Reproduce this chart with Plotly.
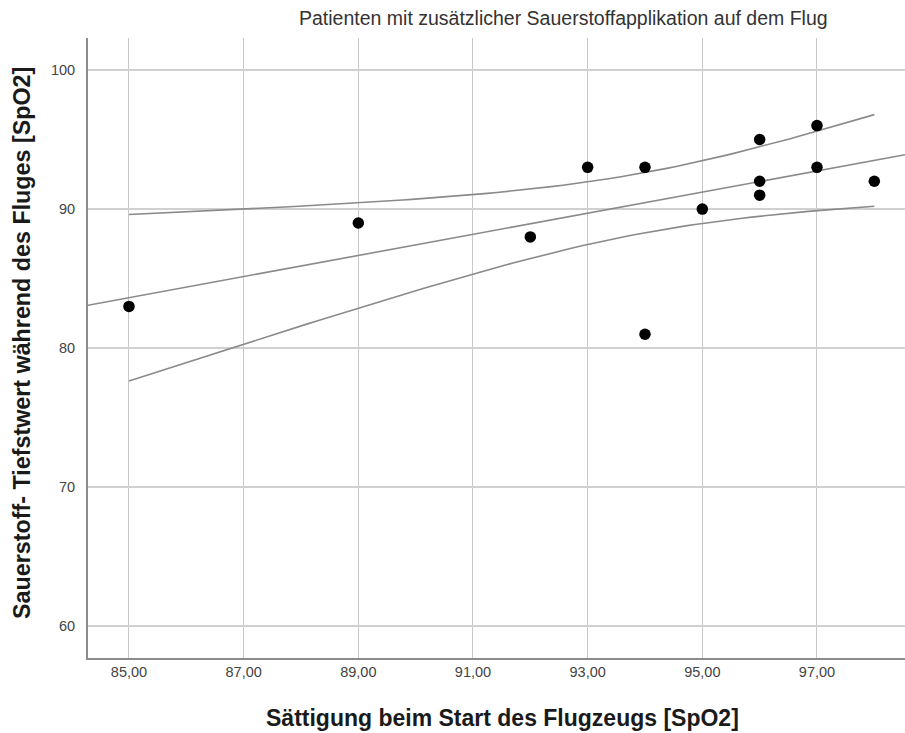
import numpy as np
import plotly.graph_objects as go

# Sättigung beim Start (x) und Tiefstwert während des Fluges (y)
start_spo2 = [85, 89, 92, 93, 94, 94, 95, 96, 96, 96, 97, 97, 98]
min_spo2 = [83, 89, 88, 93, 93, 81, 90, 95, 92, 91, 96, 93, 92]

x_ticks = [85, 87, 89, 91, 93, 95, 97]
x_ticklabels = ["85,00", "87,00", "89,00", "91,00", "93,00", "95,00", "97,00"]
y_ticks = [60, 70, 80, 90, 100]

X_RANGE = [84.285, 98.535]
Y_RANGE = [57.72, 102.3]

# Lineare Regression mit 95%-Konfidenzintervall des Mittelwerts
x = np.array(start_spo2, dtype=float)
y = np.array(min_spo2, dtype=float)
n = len(x)
xm, ym = x.mean(), y.mean()
sxx = ((x - xm) ** 2).sum()
slope = ((x - xm) * (y - ym)).sum() / sxx
intercept = ym - slope * xm
resid = y - (intercept + slope * x)
s = np.sqrt((resid ** 2).sum() / (n - 2))
t_crit = 2.201  # t(0.975, df=11)

x_fit = np.linspace(X_RANGE[0], X_RANGE[1], 50)
y_fit = intercept + slope * x_fit
x_ci = np.linspace(x.min(), x.max(), 80)
se = s * np.sqrt(1.0 / n + (x_ci - xm) ** 2 / sxx)
y_ci_hi = intercept + slope * x_ci + t_crit * se
y_ci_lo = intercept + slope * x_ci - t_crit * se

line_style = dict(color="#8a8a8a", width=1.6)

fig = go.Figure()
fig.add_trace(go.Scatter(x=x_fit, y=y_fit, mode="lines", line=line_style, hoverinfo="skip"))
fig.add_trace(go.Scatter(x=x_ci, y=y_ci_hi, mode="lines", line=line_style, hoverinfo="skip"))
fig.add_trace(go.Scatter(x=x_ci, y=y_ci_lo, mode="lines", line=line_style, hoverinfo="skip"))
fig.add_trace(go.Scatter(
    x=start_spo2, y=min_spo2, mode="markers",
    marker=dict(color="black", size=11.5, line=dict(width=0)),
))

font_main = "Liberation Sans, Arial, sans-serif"
PLOT_W, PLOT_H = 817, 620

fig.update_layout(
    width=905, height=733,
    margin=dict(l=88, r=0, t=38, b=75),
    paper_bgcolor="white", plot_bgcolor="white",
    showlegend=False,
    font=dict(family=font_main, color="#333333"),
    annotations=[
        dict(text="Patienten mit zusätzlicher Sauerstoffapplikation auf dem Flug",
             xref="paper", yref="paper", x=(563 - 88) / PLOT_W, y=1, yshift=20,
             xanchor="center", yanchor="middle", showarrow=False,
             font=dict(size=19.5, color="#333333", family=font_main)),
        dict(text="<b>Sättigung beim Start des Flugzeugs [SpO2]</b>",
             xref="paper", yref="paper", x=(502 - 88) / PLOT_W, y=0, yshift=-60,
             xanchor="center", yanchor="middle", showarrow=False,
             font=dict(size=23, color="#1a1a1a", family=font_main)),
        dict(text="<b>Sauerstoff- Tiefstwert während des Fluges [SpO2]</b>",
             xref="paper", yref="paper", x=0, xshift=-66, y=(658 - 343) / PLOT_H,
             xanchor="center", yanchor="middle", textangle=-90, showarrow=False,
             font=dict(size=23.3, color="#1a1a1a", family=font_main)),
    ],
)
fig.update_xaxes(
    range=X_RANGE, tickvals=x_ticks, ticktext=x_ticklabels,
    showgrid=True, gridcolor="#c8c8c8", gridwidth=1.2,
    showline=True, linecolor="#8c8c8c", linewidth=2,
    ticks="", tickfont=dict(size=14.5, color="#444444"),
    zeroline=False,
)
fig.update_yaxes(
    range=Y_RANGE, tickvals=y_ticks,
    showgrid=True, gridcolor="#d0d0d0", gridwidth=2,
    showline=True, linecolor="#8c8c8c", linewidth=2,
    ticks="", ticklabelstandoff=8, tickfont=dict(size=14.5, color="#444444"),
    zeroline=False,
)

fig.write_html("out.html")
